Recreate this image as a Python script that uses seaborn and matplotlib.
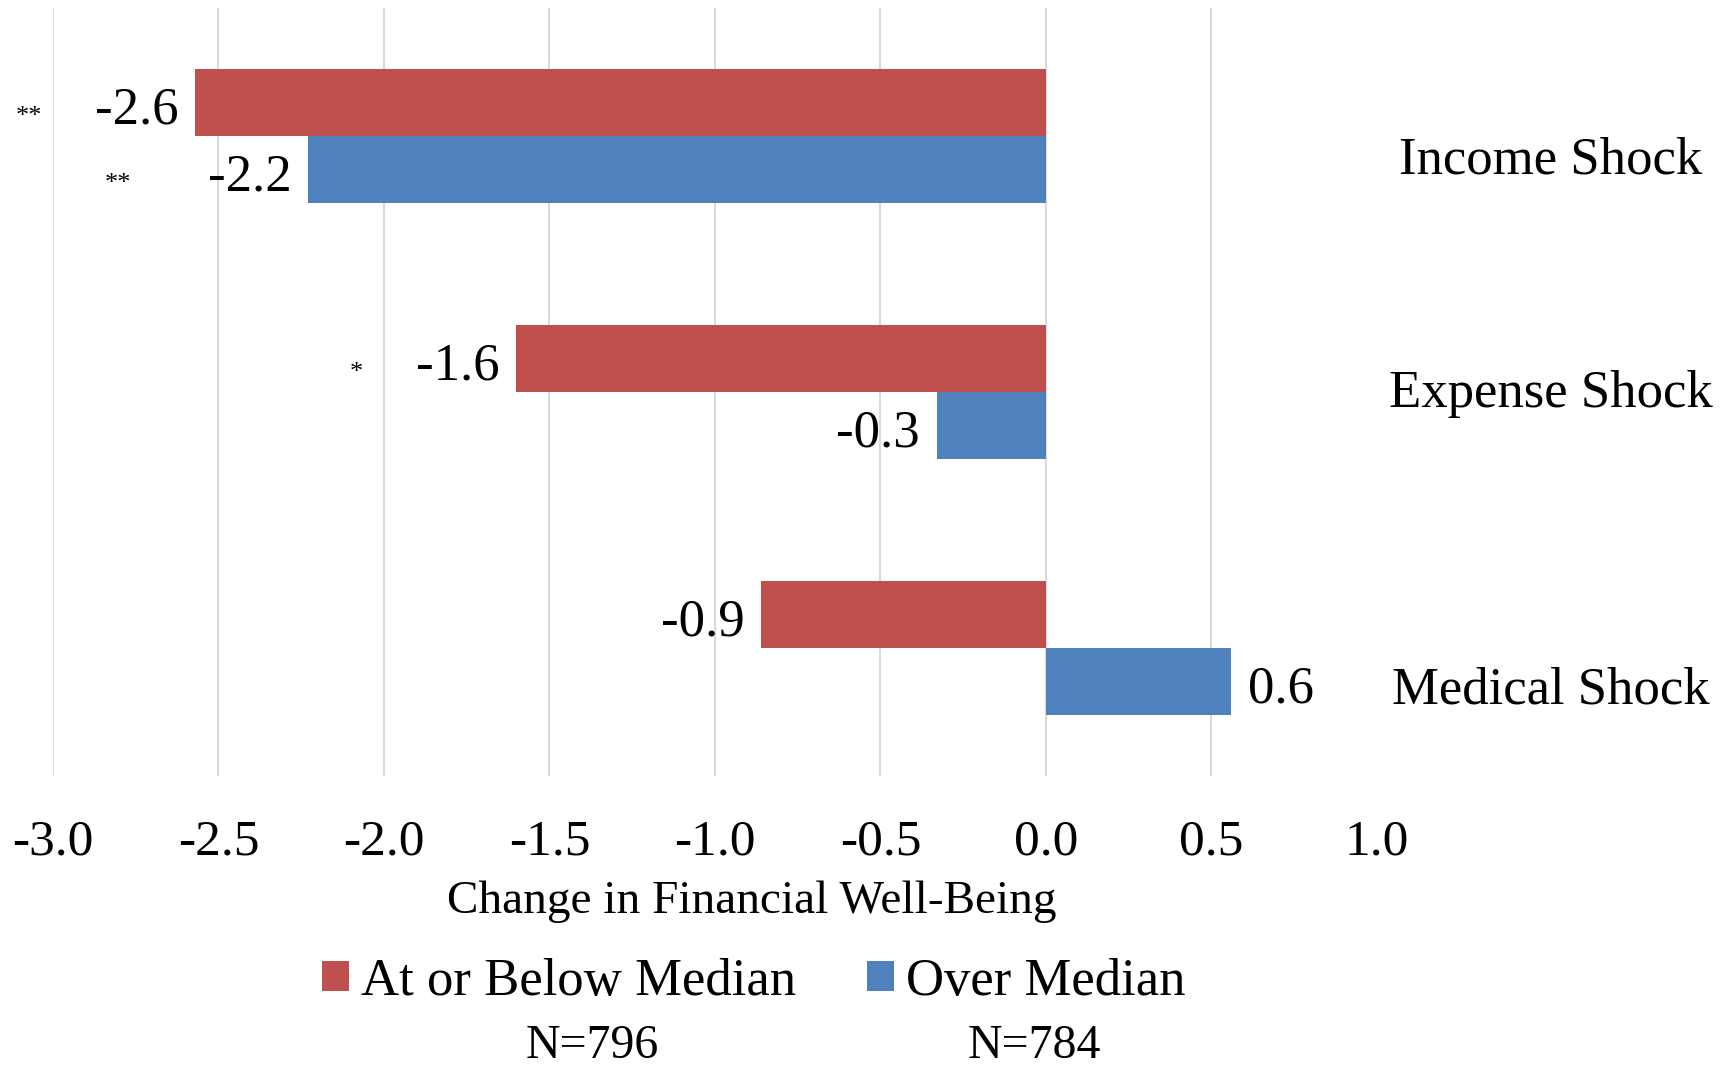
import matplotlib
matplotlib.use("Agg")
import matplotlib.pyplot as plt
import seaborn as sns
import pandas as pd

# Change in financial well-being by shock type and group
shocks = ["Income Shock", "Expense Shock", "Medical Shock"]
groups = ["At or Below Median", "Over Median"]
below_median = [-2.57, -1.60, -0.86]
over_median = [-2.23, -0.33, 0.56]
significance_below = ["**", "*", ""]
significance_over = ["**", "", ""]
group_sizes = ["N=796", "N=784"]
x_ticks = [-3.0, -2.5, -2.0, -1.5, -1.0, -0.5, 0.0, 0.5, 1.0]

palette = {"At or Below Median": "#C0504D", "Over Median": "#4F81BD"}

df = pd.DataFrame({
    "shock": shocks * 2,
    "group": [groups[0]] * 3 + [groups[1]] * 3,
    "value": below_median + over_median,
    "sig": significance_below + significance_over,
})

sns.set_theme(style="white")
plt.rcParams["font.family"] = ["Liberation Serif", "DejaVu Serif"]
plt.rcParams["text.color"] = "black"
plt.rcParams["axes.labelcolor"] = "black"
plt.rcParams["xtick.color"] = "black"

fig = plt.figure(figsize=(17.36, 10.67), dpi=100)
ax = fig.add_axes([0.0305, 0.2727, 0.7627, 0.7198])

sns.barplot(data=df, y="shock", x="value", hue="group", order=shocks,
            hue_order=groups, palette=palette, orient="h", width=0.523,
            saturation=1, linewidth=0, ax=ax)

ax.set_xlim(-3.0, 1.0)
ax.set_ylim(2.5, -0.5)
ax.set_xticks(x_ticks)
ax.set_xticklabels([f"{t:.1f}" for t in x_ticks], fontsize=37)
ax.tick_params(axis="x", length=0, pad=31)
ax.set_yticks([])
ax.set_ylabel("")
ax.grid(axis="x", color="#D9D9D9", linewidth=1.4)
ax.set_axisbelow(True)
for gl in ax.xaxis.get_gridlines()[-1:]:
    gl.set_visible(False)
for s in ax.spines.values():
    s.set_visible(False)

# horizontal offsets (points) of the significance stars from their bar ends
sig_offsets = {groups[0]: [-120, -115, -120], groups[1]: [-137, -137, -137]}

# value labels and significance stars at each bar end
for container, grp in zip(ax.containers, groups):
    sub = df[df["group"] == grp].set_index("shock").loc[shocks]
    for patch, val, sig, soff in zip(container.patches, sub["value"], sub["sig"],
                                     sig_offsets[grp]):
        yc = patch.get_y() + patch.get_height() / 2
        xoff = -12 if val < 0 else 12
        ax.annotate(f"{val:.1f}", (val, yc), xytext=(xoff, -15),
                    textcoords="offset points", ha="right" if val < 0 else "left",
                    va="baseline", fontsize=38)
        if sig:
            ax.annotate(sig, (val, yc), xytext=(soff, -15),
                        textcoords="offset points", ha="center",
                        va="baseline", fontsize=19, annotation_clip=False)

# category names on the right
label_offsets = [0.145, 0.058, 0.216]
for i, (name, off) in enumerate(zip(shocks, label_offsets)):
    ax.text(1.1315, i + off, name, transform=ax.get_yaxis_transform(),
            ha="center", va="baseline", fontsize=38, clip_on=False)

ax.set_xlabel("Change in Financial Well-Being", fontsize=34, va="baseline")
ax.xaxis.set_label_coords(0.528, -0.178)

handles, labels = ax.get_legend_handles_labels()
ax.legend(handles, labels, loc="center", bbox_to_anchor=(0.434, 0.0800),
          bbox_transform=fig.transFigure, ncol=2, frameon=False, fontsize=38,
          handlelength=0.51, handleheight=0.51, handletextpad=0.23,
          columnspacing=1.34, borderpad=0, borderaxespad=0)

for xpos, txt in zip([0.341, 0.5956], group_sizes):
    fig.text(xpos, 0.0197, txt, ha="center", va="center", fontsize=34.5)

fig.savefig("out.png", dpi=100)
